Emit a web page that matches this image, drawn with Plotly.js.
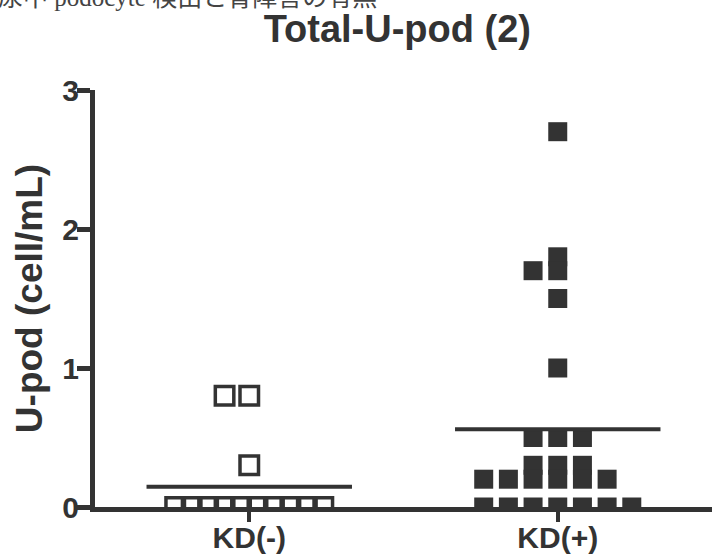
<!DOCTYPE html>
<html>
<head>
<meta charset="utf-8">
<script src="https://cdn.plot.ly/plotly-3.0.1.min.js"></script>
<style>
  html, body { margin: 0; padding: 0; background: #ffffff; }
  #chart { width: 712px; height: 556px; }
</style>
</head>
<body>
<div id="chart"></div>
<script>
// ---- data ----
const categories = ['KD(-)', 'KD(+)'];
const kdNegValues = [0.8, 0.8, 0.3, 0, 0, 0, 0, 0, 0, 0, 0, 0, 0];
const kdPosValues = [2.7, 1.8, 1.7, 1.7, 1.5, 1.0, 0.5, 0.5, 0.5, 0.3, 0.3, 0.3,
                     0.2, 0.2, 0.2, 0.2, 0.2, 0.2, 0, 0, 0, 0, 0, 0, 0];
const yTickValues = [0, 1, 2, 3];
const chartTitle = 'Total-U-pod (2)';
const yTitle = 'U-pod (cell/mL)';
const captionText = '尿中 podocyte 検出と腎障害の有無';

// ---- scatter-column layout (points of equal value share a row) ----
const STEP = 0.08;      // horizontal spacing between neighbours, in category units
const MAX_ROW = 7;      // wider rows are compressed to this width
function spread(values, centre) {
  const groups = new Map();
  values.forEach((v, i) => {
    const k = v.toFixed(4);
    if (!groups.has(k)) groups.set(k, []);
    groups.get(k).push(i);
  });
  const xs = new Array(values.length);
  groups.forEach(idx => {
    const n = idx.length;
    idx.forEach((pi, j) => {
      let slot;
      if (n <= MAX_ROW) {
        const k = Math.ceil(j / 2);
        slot = (j === 0) ? 0 : (j % 2 === 1 ? -k : k);
      } else {
        const half = (MAX_ROW - 1) / 2;
        slot = -half + j * (2 * half) / (n - 1);
      }
      xs[pi] = centre + slot * STEP;
    });
  });
  return xs;
}
const mean = a => a.reduce((s, v) => s + v, 0) / a.length;

const INK = '#333333';
const FONT = 'Liberation Sans, Arial, Helvetica, sans-serif';

const traceNeg = {
  type: 'scatter', mode: 'markers', name: categories[0],
  x: spread(kdNegValues, 1), y: kdNegValues,
  marker: { symbol: 'square-open', size: 18.5, color: INK, line: { width: 3.5, color: INK } },
  hoverinfo: 'y'
};
const tracePos = {
  type: 'scatter', mode: 'markers', name: categories[1],
  x: spread(kdPosValues, 2), y: kdPosValues,
  marker: { symbol: 'square', size: 19, color: INK, line: { width: 0 } },
  hoverinfo: 'y'
};
const means = [mean(kdNegValues), mean(kdPosValues)];
const HALF = 0.333;
const traceMean = {
  type: 'scatter', mode: 'lines', name: 'mean',
  x: [1 - HALF, 1 + HALF, null, 2 - HALF, 2 + HALF],
  y: [means[0], means[0], null, means[1], means[1]],
  line: { color: INK, width: 4 },
  hoverinfo: 'skip'
};

const layout = {
  width: 712, height: 556,
  margin: { l: 95, r: 0, t: 90, b: 49, pad: 0 },
  paper_bgcolor: '#ffffff', plot_bgcolor: '#ffffff',
  showlegend: false,
  title: {
    text: chartTitle,
    font: { family: FONT, size: 38, weight: 'bold', color: INK },
    xref: 'paper', x: 0.49, xanchor: 'center',
    yref: 'container', y: 1 - 29 / 556, yanchor: 'middle'
  },
  xaxis: {
    range: [0.5, 2.5], tickvals: [1, 2], ticktext: categories,
    showline: true, linewidth: 5, linecolor: INK,
    ticks: 'outside', ticklen: 10, tickwidth: 4, tickcolor: INK,
    ticklabelstandoff: -10,
    showgrid: false, zeroline: false,
    tickfont: { family: FONT, size: 30, weight: 'bold', color: INK }
  },
  yaxis: {
    range: [0, 3], tickvals: yTickValues,
    showline: true, linewidth: 5, linecolor: INK,
    ticks: 'outside', ticklen: 13, tickwidth: 5, tickcolor: INK,
    ticklabelstandoff: -8,
    showgrid: false, zeroline: false,
    tickfont: { family: FONT, size: 30, weight: 'bold', color: INK },
    title: { text: yTitle, standoff: 10, font: { family: FONT, size: 37, weight: 'bold', color: INK } }
  },
  annotations: [{
    text: captionText, showarrow: false,
    xref: 'paper', yref: 'paper',
    x: (-4 - 95) / 617, y: (507 + 3) / 417,
    xanchor: 'left', yanchor: 'middle',
    font: { family: 'Liberation Serif, Noto Sans CJK JP, serif', size: 25, color: '#444444' }
  }]
};

Plotly.newPlot('chart', [traceNeg, tracePos, traceMean], layout, { staticPlot: true, displayModeBar: false });
</script>
</body>
</html>
